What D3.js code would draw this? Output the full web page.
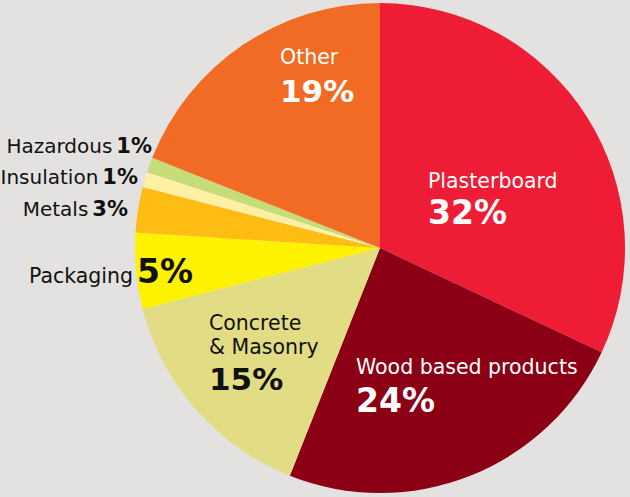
<!DOCTYPE html>
<html>
<head>
<meta charset="utf-8">
<script src="https://cdn.jsdelivr.net/npm/d3@7"></script>
<style>
  body { margin: 0; background: #e4e2e0; }
  svg { display: block; }
  text { font-family: "DejaVu Sans", sans-serif; }
</style>
</head>
<body>
<div id="chart"></div>
<script>
// data (clockwise from 12 o'clock)
var categories = ["Plasterboard", "Wood based products", "Concrete & Masonry", "Packaging",
                  "Metals", "Insulation", "Hazardous", "Other"];
var values = [32, 24, 15, 5, 3, 1, 1, 19];
var colors = ["#ee1c35", "#8c0015", "#e2dc85", "#fff200", "#ffbd13", "#fff0a3", "#c6dc78", "#f26b24"];

// label layout (text lines, where they sit)
var labelLines = [["Plasterboard"], ["Wood based products"], ["Concrete", "& Masonry"], ["Packaging"],
                  ["Metals"], ["Insulation"], ["Hazardous"], ["Other"]];

var width = 630, height = 497;
var cx = 380, cy = 248, radius = 245;

var svg = d3.select("#chart")
  .append("svg")
    .attr("width", width)
    .attr("height", height);

var pie = d3.pie()
    .sort(null)
    .value(function(d) { return d; });

var arc = d3.arc()
    .innerRadius(0)
    .outerRadius(radius);

var arcs = pie(values);

var g = svg.append("g")
    .attr("transform", "translate(" + cx + "," + cy + ")");

g.selectAll("path")
  .data(arcs)
  .enter()
  .append("path")
    .attr("d", arc)
    .style("fill", function(d, i) { return colors[i]; });

// big labels inside the slices: name lines stacked, % below
var inside = [
  {i: 0, x: 428, y: 188, lh: 0, py: 224, ps: 33, fill: "#fff"},
  {i: 1, x: 356, y: 374, lh: 0, py: 412, ps: 33, fill: "#fff"},
  {i: 2, x: 209, y: 330, lh: 24, py: 390, ps: 31, fill: "#111"},
  {i: 7, x: 280, y: 64, lh: 0, py: 102, ps: 31, fill: "#fff"}
];

inside.forEach(function(l) {
  var t = svg.append("text")
      .attr("x", l.x)
      .attr("y", l.y)
      .style("fill", l.fill);
  labelLines[l.i].forEach(function(s, k) {
    t.append("tspan")
      .attr("x", l.x)
      .attr("y", l.y + k * l.lh)
      .style("font-size", "20.5px")
      .text(s);
  });
  svg.append("text")
      .attr("x", l.x)
      .attr("y", l.py)
      .style("fill", l.fill)
      .style("font-size", l.ps + "px")
      .style("font-weight", "bold")
      .text(values[l.i] + "%");
});

// small slices: name then % on one line, right end fixed
var outside = [
  {i: 3, x: 137, y: 283, ns: 20.5, ps: 33},
  {i: 4, x: 128, y: 216, ns: 20, ps: 21},
  {i: 5, x: 138, y: 184, ns: 20, ps: 21},
  {i: 6, x: 152, y: 153, ns: 20, ps: 21}
];

outside.forEach(function(l) {
  var t = svg.append("text")
      .style("fill", "#111");
  if (l.i === 3) {
    // packaging: % starts at the pie edge
    t.attr("x", l.x).attr("y", l.y).attr("text-anchor", "start");
    svg.append("text")
      .attr("x", l.x - 4)
      .attr("y", l.y)
      .attr("text-anchor", "end")
      .style("fill", "#111")
      .style("font-size", l.ns + "px")
      .text(labelLines[l.i][0]);
    t.style("font-size", l.ps + "px")
      .style("font-weight", "bold")
      .text(values[l.i] + "%");
  } else {
    t.attr("x", l.x).attr("y", l.y).attr("text-anchor", "end");
    t.append("tspan")
      .style("font-size", l.ns + "px")
      .text(labelLines[l.i][0]);
    t.append("tspan")
      .attr("dx", 4)
      .style("font-size", l.ps + "px")
      .style("font-weight", "bold")
      .text(values[l.i] + "%");
  }
});
</script>
</body>
</html>
